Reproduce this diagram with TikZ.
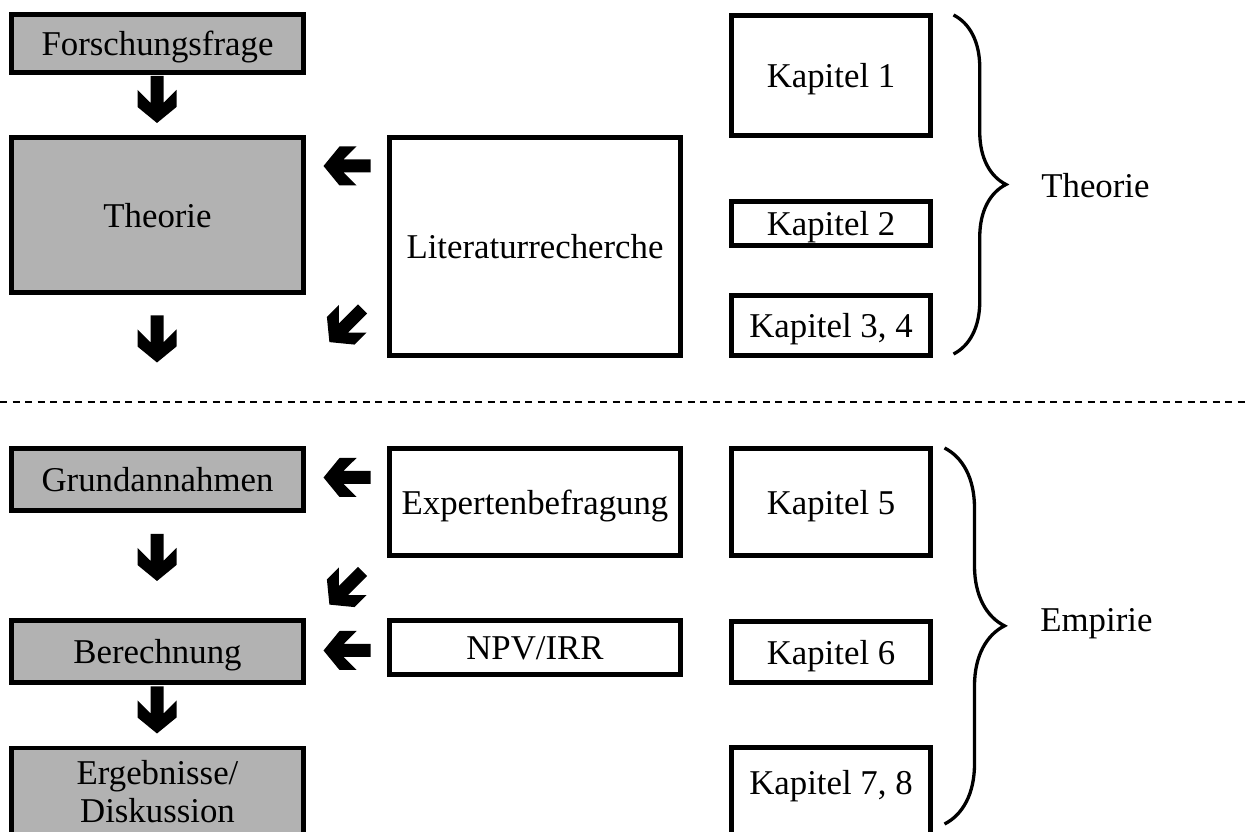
\documentclass[tikz,border=0pt]{standalone}
\usepackage{fontspec}
\setmainfont{Liberation Serif}
\usetikzlibrary{%
  decorations.pathreplacing,% wg. brace
  positioning%
}

\begin{document}
\begin{tikzpicture}[
  font=\fontsize{19.8}{21.6}\selectfont, line width=0.095cm,
  plainbox/.style={rectangle, draw=black, inner sep=0pt, text height=14.2pt, text depth=0pt},
  stage/.style={plainbox, fill=black!30, minimum width=5.845cm},
  source/.style={plainbox, fill=white, minimum width=5.825cm},
  chapter/.style={plainbox, fill=white, minimum width=3.985cm},
  curly/.style={decorate, line width=0.066cm},
  blockarr/.pic={\fill[black] (-0.47,0.13) -- (0.07,0.13) -- (-0.19,0.39) -- (0.15,0.39) -- (0.47,0)
    -- (0.15,-0.39) -- (-0.19,-0.39) -- (0.07,-0.13) -- (-0.47,-0.13) -- cycle;}
]
\useasboundingbox (0,0) rectangle (24.96,16.62);

% Ablauf links
\node[stage, minimum height=3.105cm] (theorie) at (3.15,12.32) {Theorie};
\node[stage, minimum height=1.165cm] (frage) at (3.15,15.75) {Forschungsfrage};
\node[stage, minimum height=1.245cm] (annahmen) at (3.15,7.03) {Grundannahmen};
\node[stage, minimum height=1.245cm] (rechnung) at (3.15,3.59) {Berechnung};
\node[stage, minimum height=1.745cm, align=center, text height=, text depth=] (ergebnis) at (3.15,0.79) {Ergebnisse/\\Diskussion};

% Quellen
\node[source, minimum height=4.365cm] (literatur) at (10.70,11.69) {Literaturrecherche};
\node[source, minimum height=2.145cm] (experten) at (10.70,6.58) {Expertenbefragung};
\node[source, minimum height=1.085cm] (npv) at (10.70,3.67) {NPV/IRR};

% Kapitel
\node[chapter, minimum height=2.405cm] (kap1) at (16.62,15.11) {Kapitel 1};
\node[chapter, minimum height=0.885cm] (kap2) at (16.62,12.15) {Kapitel 2};
\node[chapter, minimum height=1.205cm] (kap34) at (16.62,10.11) {Kapitel 3, 4};
\node[chapter, minimum height=2.145cm] (kap5) at (16.62,6.58) {Kapitel 5};
\node[chapter, minimum height=1.225cm] (kap6) at (16.62,3.58) {Kapitel 6};
\node[chapter, minimum height=1.905cm, text depth=14.2pt] (kap78) at (16.62,0.72) {Kapitel 7, 8};

% Klammern
\coordinate (theoTop) at (19.07,16.32);
\coordinate (theoBot) at (19.07,9.54);
\draw[curly, decoration={brace, amplitude=1.05cm, aspect=0.5}] (theoTop) -- (theoBot);
\coordinate (empTop) at (18.89,7.66);
\coordinate (empBot) at (18.89,0.14);
\draw[curly, decoration={brace, amplitude=1.2cm, aspect=0.473}] (empTop) -- (empBot);

\node[anchor=base west, inner sep=0pt] (lblTheorie) at (20.78,12.66) {Theorie};
\node[anchor=base west, inner sep=0pt] (lblEmpirie) at (20.76,3.98) {Empirie};

% Trennlinie
\coordinate (sepL) at (0,8.58);
\coordinate (sepR) at (24.96,8.58);
\draw[line width=0.05cm, dash pattern=on 0.14cm off 0.11cm] (sepL) -- (sepR);

% Pfeile
\foreach \y in {14.63,9.84,5.47,2.42} {
  \pic[rotate=-90] at (3.14,\y) {blockarr};
}
\foreach \y in {13.30,7.07,3.61} {
  \pic[rotate=180] at (6.94,\y) {blockarr};
}
\foreach \y in {10.11,4.86} {
  \pic[rotate=-135] at (6.92,\y) {blockarr};
}
\end{tikzpicture}
\end{document}
